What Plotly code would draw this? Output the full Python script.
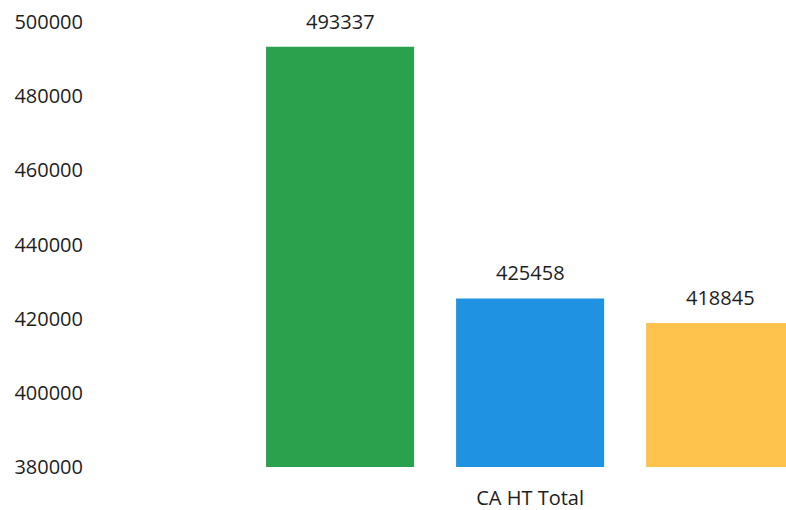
import plotly.graph_objects as go

categories = ["CA HT Total"]
series_names = ["Série 1", "Série 2", "Série 3"]
values = [493337, 425458, 418845]
colors = ["#2ba04d", "#1f93e2", "#fdc34c"]
y_ticks = [380000, 400000, 420000, 440000, 460000, 480000, 500000]

BARGAP = 0.1
BARGROUPGAP = 0.221
FONT = dict(family="Open Sans", size=20, color="#1e1e1e")

fig = go.Figure()
for name, v, c in zip(series_names, values, colors):
    fig.add_trace(go.Bar(x=categories, y=[v], name=name, marker=dict(color=c, line=dict(width=0)),
                         showlegend=False))

# value labels above bars (positions follow the grouped-bar layout)
n = len(values)
slot = (1 - BARGAP) / n
for i, v in enumerate(values):
    xpos = -(1 - BARGAP) / 2 + slot * (i + 0.5)
    fig.add_annotation(x=xpos, y=v, xref="x", yref="y", text=str(v), showarrow=False,
                       yanchor="bottom", yshift=10, font=FONT)

fig.update_layout(
    width=786, height=510,
    margin=dict(l=100, r=0, t=22, b=43),
    paper_bgcolor="white", plot_bgcolor="white",
    barmode="group", bargap=BARGAP, bargroupgap=BARGROUPGAP,
    font=FONT,
)
fig.update_xaxes(range=[-0.679, 0.404], showgrid=False, showline=False, zeroline=False,
                 ticks="", ticklabelstandoff=17, tickfont=FONT)
fig.update_yaxes(range=[380000, 500000], tickvals=y_ticks, ticktext=[str(t) for t in y_ticks],
                 showgrid=False, showline=False, zeroline=False, ticks="",
                 ticklabelstandoff=16, tickfont=FONT)

fig.write_html("out.html")
